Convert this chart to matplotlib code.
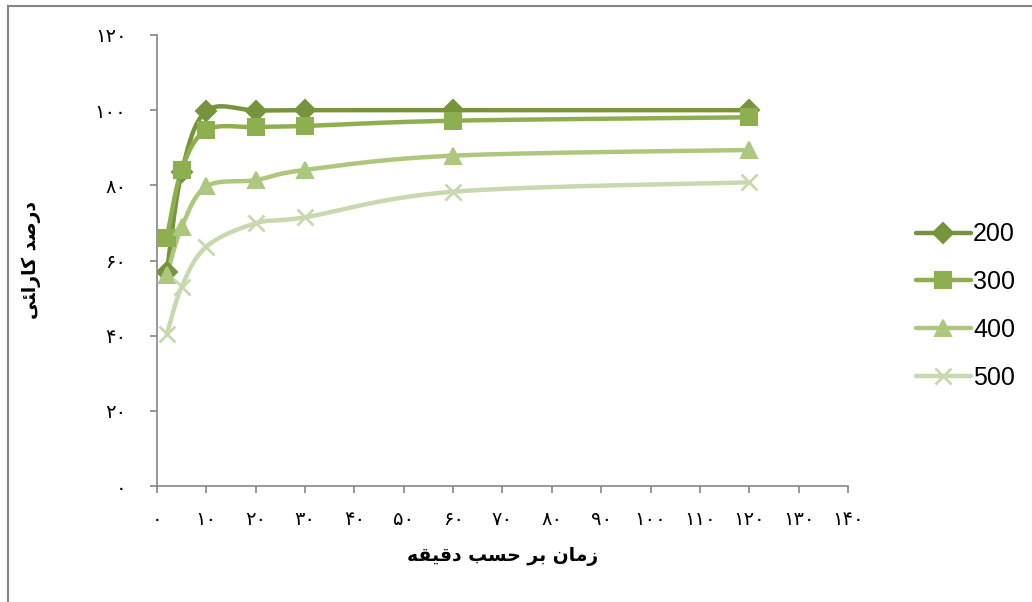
import numpy as np
import matplotlib
matplotlib.use('Agg')
import matplotlib.pyplot as plt
from matplotlib.lines import Line2D

# data (time in minutes, efficiency %)
times = [2, 5, 10, 20, 30, 60, 120]
s200 = [57.0, 83.5, 99.8, 99.9, 100.0, 100.0, 100.0]
s300 = [66.1, 84.1, 94.7, 95.5, 95.8, 97.2, 98.1]
s400 = [56.1, 68.9, 79.7, 81.4, 84.1, 87.9, 89.4]
s500 = [40.4, 53.0, 63.7, 69.9, 71.5, 78.3, 80.8]
series_names = ['200', '300', '400', '500']
colors = ['#77933C', '#8DAF4F', '#AEC77F', '#C8D9B0']
markers = ['D', 's', '^', 'x']
msizes = [10, 12, 12, 12]

xticks = list(range(0, 141, 10))
yticks = list(range(0, 121, 20))

def fa_digits(n):
    return str(n).translate(str.maketrans('0123456789', '۰۱۲۳۴۵۶۷۸۹'))

def smooth(x, y, n=30):
    # Excel-like smoothed line: cubic bezier through the points
    x = np.asarray(x, float)
    y = np.asarray(y, float)
    p = np.column_stack([x, y])
    out = []
    for i in range(len(p) - 1):
        p0 = p[i - 1] if i > 0 else p[i]
        p3 = p[i + 2] if i + 2 < len(p) else p[i + 1]
        c1 = p[i] + (p[i + 1] - p0) / 6
        c2 = p[i + 1] - (p3 - p[i]) / 6
        t = np.linspace(0, 1, n)[:, None]
        seg = ((1 - t) ** 3 * p[i] + 3 * (1 - t) ** 2 * t * c1
               + 3 * (1 - t) * t ** 2 * c2 + t ** 3 * p[i + 1])
        out.append(seg if i == 0 else seg[1:])
    out = np.vstack(out)
    return out[:, 0], out[:, 1]

fig = plt.figure(figsize=(10.32, 6.02), dpi=100)
ax = fig.add_axes([157 / 1032, 1 - 486 / 602, (848 - 157) / 1032, (486 - 35) / 602])

all_series = [s200, s300, s400, s500]
handles = []
for vals, name, c, m, ms in zip(all_series, series_names, colors, markers, msizes):
    sx, sy = smooth(times, vals)
    ax.plot(sx, sy, color=c, lw=3.2, solid_capstyle='round', zorder=2)
    ax.plot(times, vals, ls='none', marker=m, ms=ms, color=c, mec=c,
            mew=1.5 if m != 'x' else 2, zorder=3)
    handles.append(Line2D([0], [0], color=c, lw=3.2, marker=m, ms=ms, mec=c,
                          mew=1.5 if m != 'x' else 2, solid_capstyle='round'))

ax.set_xlim(0, 140)
ax.set_ylim(0, 120)
ax.set_xticks(xticks)
ax.set_yticks(yticks)
ax.set_xticklabels([fa_digits(v) for v in xticks], fontsize=14, family='DejaVu Sans')
ax.set_yticklabels([fa_digits(v) for v in yticks], fontsize=14, family='DejaVu Sans')
for s in ['top', 'right']:
    ax.spines[s].set_visible(False)
for s in ['left', 'bottom']:
    ax.spines[s].set_color('#868686')
    ax.spines[s].set_linewidth(1.2)
ax.tick_params(axis='both', colors='#868686', length=5, width=1.2, labelcolor='black')
ax.tick_params(axis='x', pad=12)
ax.tick_params(axis='y', pad=17)

# Persian labels in presentation forms, visual order
xlabel = 'ﻪﻘﻴﻗﺩ ﺐﺴﺣ ﺮﺑ ﻥﺎﻣﺯ'
ylabel = 'ﻰﺌﺍﺭﺎﮐ ﺪﺻﺭﺩ'
fig.text(503 / 1032, 1 - 557 / 602, xlabel, ha='center', va='center',
         fontsize=13.5, fontweight='bold', family='DejaVu Sans')
fig.text(31 / 1032, 1 - 260 / 602, ylabel, ha='center', va='center', rotation=90,
         fontsize=13.5, fontweight='bold', family='DejaVu Sans')

fig.legend(handles, series_names, loc='center left', bbox_to_anchor=(893 / 1032, 1 - 306 / 602),
           frameon=False, prop={'family': 'Liberation Sans', 'size': 18},
           handlelength=2.2, handletextpad=0.1, labelspacing=0.95)

# chart border (only left and top visible in the crop)
fig.add_artist(Line2D([8 / 1032, 8 / 1032], [0, 1 - 6 / 602], transform=fig.transFigure,
                      color='#868686', lw=1.5))
fig.add_artist(Line2D([8 / 1032, 1], [1 - 6 / 602, 1 - 6 / 602], transform=fig.transFigure,
                      color='#868686', lw=1.5))

fig.savefig('out.png', dpi=100)
